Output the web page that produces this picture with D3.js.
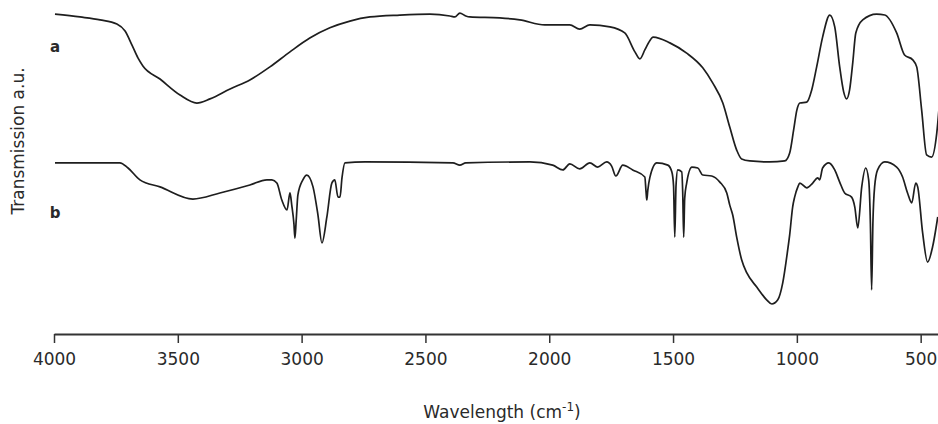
<!DOCTYPE html>
<html>
<head>
<meta charset="utf-8">
<script src="https://cdn.jsdelivr.net/npm/d3@7"></script>
<style>
  html, body { margin: 0; padding: 0; background: #fff; }
  svg { display: block; }
  text { font-family: "DejaVu Sans", Verdana, sans-serif; fill: #2a2a2a; }
</style>
</head>
<body>
<svg id="chart" width="938" height="424"></svg>
<script>
// Axis ticks (wavenumber, cm^-1)
const xTicks = [4000, 3500, 3000, 2500, 2000, 1500, 1000, 500];

// Spectrum a: wavenumber and transmission (a.u., offset trace)
const wnA = [3996, 3895, 3814, 3746, 3713, 3685, 3661, 3641, 3572, 3491, 3423, 3370, 3289, 3209, 3128, 3047, 2967, 2886, 2805, 2724, 2603, 2482, 2401, 2381, 2361, 2337, 2321, 2200, 2119, 2018, 1917, 1877, 1836, 1755, 1695, 1654, 1634, 1614, 1600, 1580, 1513, 1445, 1380, 1340, 1299, 1271, 1243, 1223, 1190, 1110, 1049, 1029, 1013, 1000, 988, 960, 940, 920, 896, 867, 847, 827, 811, 799, 787, 774, 762, 734, 678, 645, 597, 565, 532, 516, 496, 476, 456, 435, 423];
const tA  = [95.6, 94.7, 93.8, 92.5, 90.3, 85.9, 81.9, 79.4, 75.3, 70.3, 67.8, 69.1, 72.2, 75.0, 79.1, 83.8, 88.1, 91.3, 93.4, 94.7, 95.3, 95.6, 95.0, 94.7, 95.9, 95.0, 94.7, 94.4, 93.8, 92.2, 92.2, 90.9, 92.2, 91.6, 89.7, 83.8, 81.6, 84.4, 86.5, 88.4, 86.6, 83.4, 78.8, 74.1, 67.8, 60.3, 53.1, 50.3, 49.7, 49.4, 49.7, 52.2, 59.4, 65.6, 67.8, 68.1, 71.9, 79.1, 88.4, 95.3, 91.6, 79.1, 71.3, 69.1, 71.9, 80.6, 89.7, 93.8, 95.6, 95.3, 89.7, 82.8, 81.3, 79.1, 65.6, 51.6, 50.9, 58.4, 68.8];

// Spectrum b: wavenumber and transmission (a.u.)
const wnB = [3996, 3814, 3734, 3701, 3653, 3572, 3439, 3330, 3209, 3140, 3120, 3100, 3080, 3059, 3047, 3040, 3031, 3027, 3022, 3015, 2995, 2979, 2954, 2934, 2918, 2898, 2878, 2866, 2853, 2845, 2837, 2825, 2744, 2389, 2361, 2337, 2078, 1986, 1945, 1917, 1877, 1836, 1804, 1768, 1748, 1731, 1703, 1663, 1614, 1609, 1606, 1602, 1594, 1566, 1521, 1505, 1498, 1493, 1488, 1481, 1465, 1461, 1457, 1453, 1445, 1424, 1400, 1380, 1344, 1311, 1283, 1271, 1259, 1243, 1223, 1202, 1162, 1122, 1101, 1077, 1057, 1037, 1029, 1017, 1009, 996, 988, 960, 936, 916, 908, 896, 871, 847, 827, 807, 779, 766, 754, 738, 722, 710, 703, 698, 693, 686, 674, 645, 597, 573, 553, 536, 520, 512, 492, 472, 452, 431];
const tB  = [49.1, 49.1, 49.1, 47.5, 43.8, 41.6, 37.8, 39.7, 42.2, 43.8, 43.8, 42.8, 37.5, 34.4, 39.7, 36.0, 30.0, 25.6, 31.0, 39.1, 43.8, 45.3, 41.6, 32.8, 24.1, 32.2, 42.8, 43.8, 38.4, 38.4, 44.4, 49.1, 49.4, 49.1, 48.4, 49.1, 49.4, 48.4, 46.9, 48.8, 47.2, 49.1, 47.8, 49.4, 48.1, 45.0, 48.4, 46.9, 44.7, 40.0, 37.5, 40.5, 44.4, 49.1, 48.4, 46.3, 42.0, 25.9, 42.0, 46.9, 46.3, 40.0, 25.9, 38.0, 42.8, 47.8, 47.5, 45.3, 45.0, 43.1, 39.7, 35.9, 32.8, 25.9, 18.8, 14.7, 10.3, 6.3, 5.0, 6.3, 11.6, 21.9, 26.6, 35.3, 38.4, 41.6, 42.8, 41.3, 42.8, 44.4, 43.8, 47.5, 49.1, 46.9, 43.1, 39.7, 38.4, 35.3, 28.8, 41.6, 47.5, 43.8, 30.0, 9.4, 30.0, 41.6, 46.9, 49.4, 47.8, 44.7, 39.7, 36.6, 42.8, 41.6, 27.2, 18.1, 22.8, 32.2];

// Trace labels and the transmission level each one sits at
const traceLabels = ["a", "b"];
const labelLevels = [83.6, 32.0];

const svg = d3.select("#chart");
const W = 938, H = 424;
const margin = { left: 54, right: 0, top: 0, bottom: 90 };

const x = d3.scaleLinear().domain([4000, 430]).range([margin.left, W - margin.right]);
const y = d3.scaleLinear().domain([0, 100]).range([320, 0]);

const plot = svg.append("g");
plot.append("clipPath").attr("id", "clip")
  .append("rect").attr("x", margin.left).attr("y", 0).attr("width", W - margin.left).attr("height", 334);

const line = d3.line()
  .x(d => x(d[0]))
  .y(d => y(d[1]))
  .curve(d3.curveMonotoneX);

const seriesA = wnA.map((w, i) => [w, tA[i]]);
const seriesB = wnB.map((w, i) => [w, tB[i]]);

[seriesA, seriesB].forEach(s => {
  plot.append("path")
    .datum(s)
    .attr("clip-path", "url(#clip)")
    .attr("fill", "none")
    .attr("stroke", "#1e1e1e")
    .attr("stroke-width", 1.7)
    .attr("stroke-linejoin", "round")
    .attr("d", line);
});

// Bottom axis
const axis = d3.axisBottom(x)
  .tickValues(xTicks)
  .tickSize(9)
  .tickSizeOuter(0)
  .tickPadding(10)
  .tickFormat(d3.format("d"));

const gx = svg.append("g")
  .attr("transform", "translate(0,334)")
  .call(axis);
gx.select(".domain").attr("stroke", "#333").attr("stroke-width", 2);
gx.selectAll(".tick line").attr("stroke", "#333").attr("stroke-width", 1.5);
gx.selectAll(".tick text")
  .attr("font-size", 17)
  .attr("font-family", "DejaVu Sans, Verdana, sans-serif")
  .attr("fill", "#2a2a2a");

// Axis titles
const xt = svg.append("text")
  .attr("x", 502).attr("y", 418)
  .attr("text-anchor", "middle")
  .attr("font-size", 17);
xt.append("tspan").text("Wavelength (cm");
xt.append("tspan").attr("font-size", 12).attr("dy", -7).text("-1");
xt.append("tspan").attr("dy", 7).text(")");

svg.append("text")
  .attr("transform", "translate(24,141) rotate(-90)")
  .attr("text-anchor", "middle")
  .attr("font-size", 17)
  .text("Transmission a.u.");

// Trace labels
traceLabels.forEach((t, i) => {
  svg.append("text")
    .attr("x", 55).attr("y", y(labelLevels[i]))
    .attr("text-anchor", "middle")
    .attr("font-size", 15)
    .attr("font-weight", "bold")
    .text(t);
});
</script>
</body>
</html>
